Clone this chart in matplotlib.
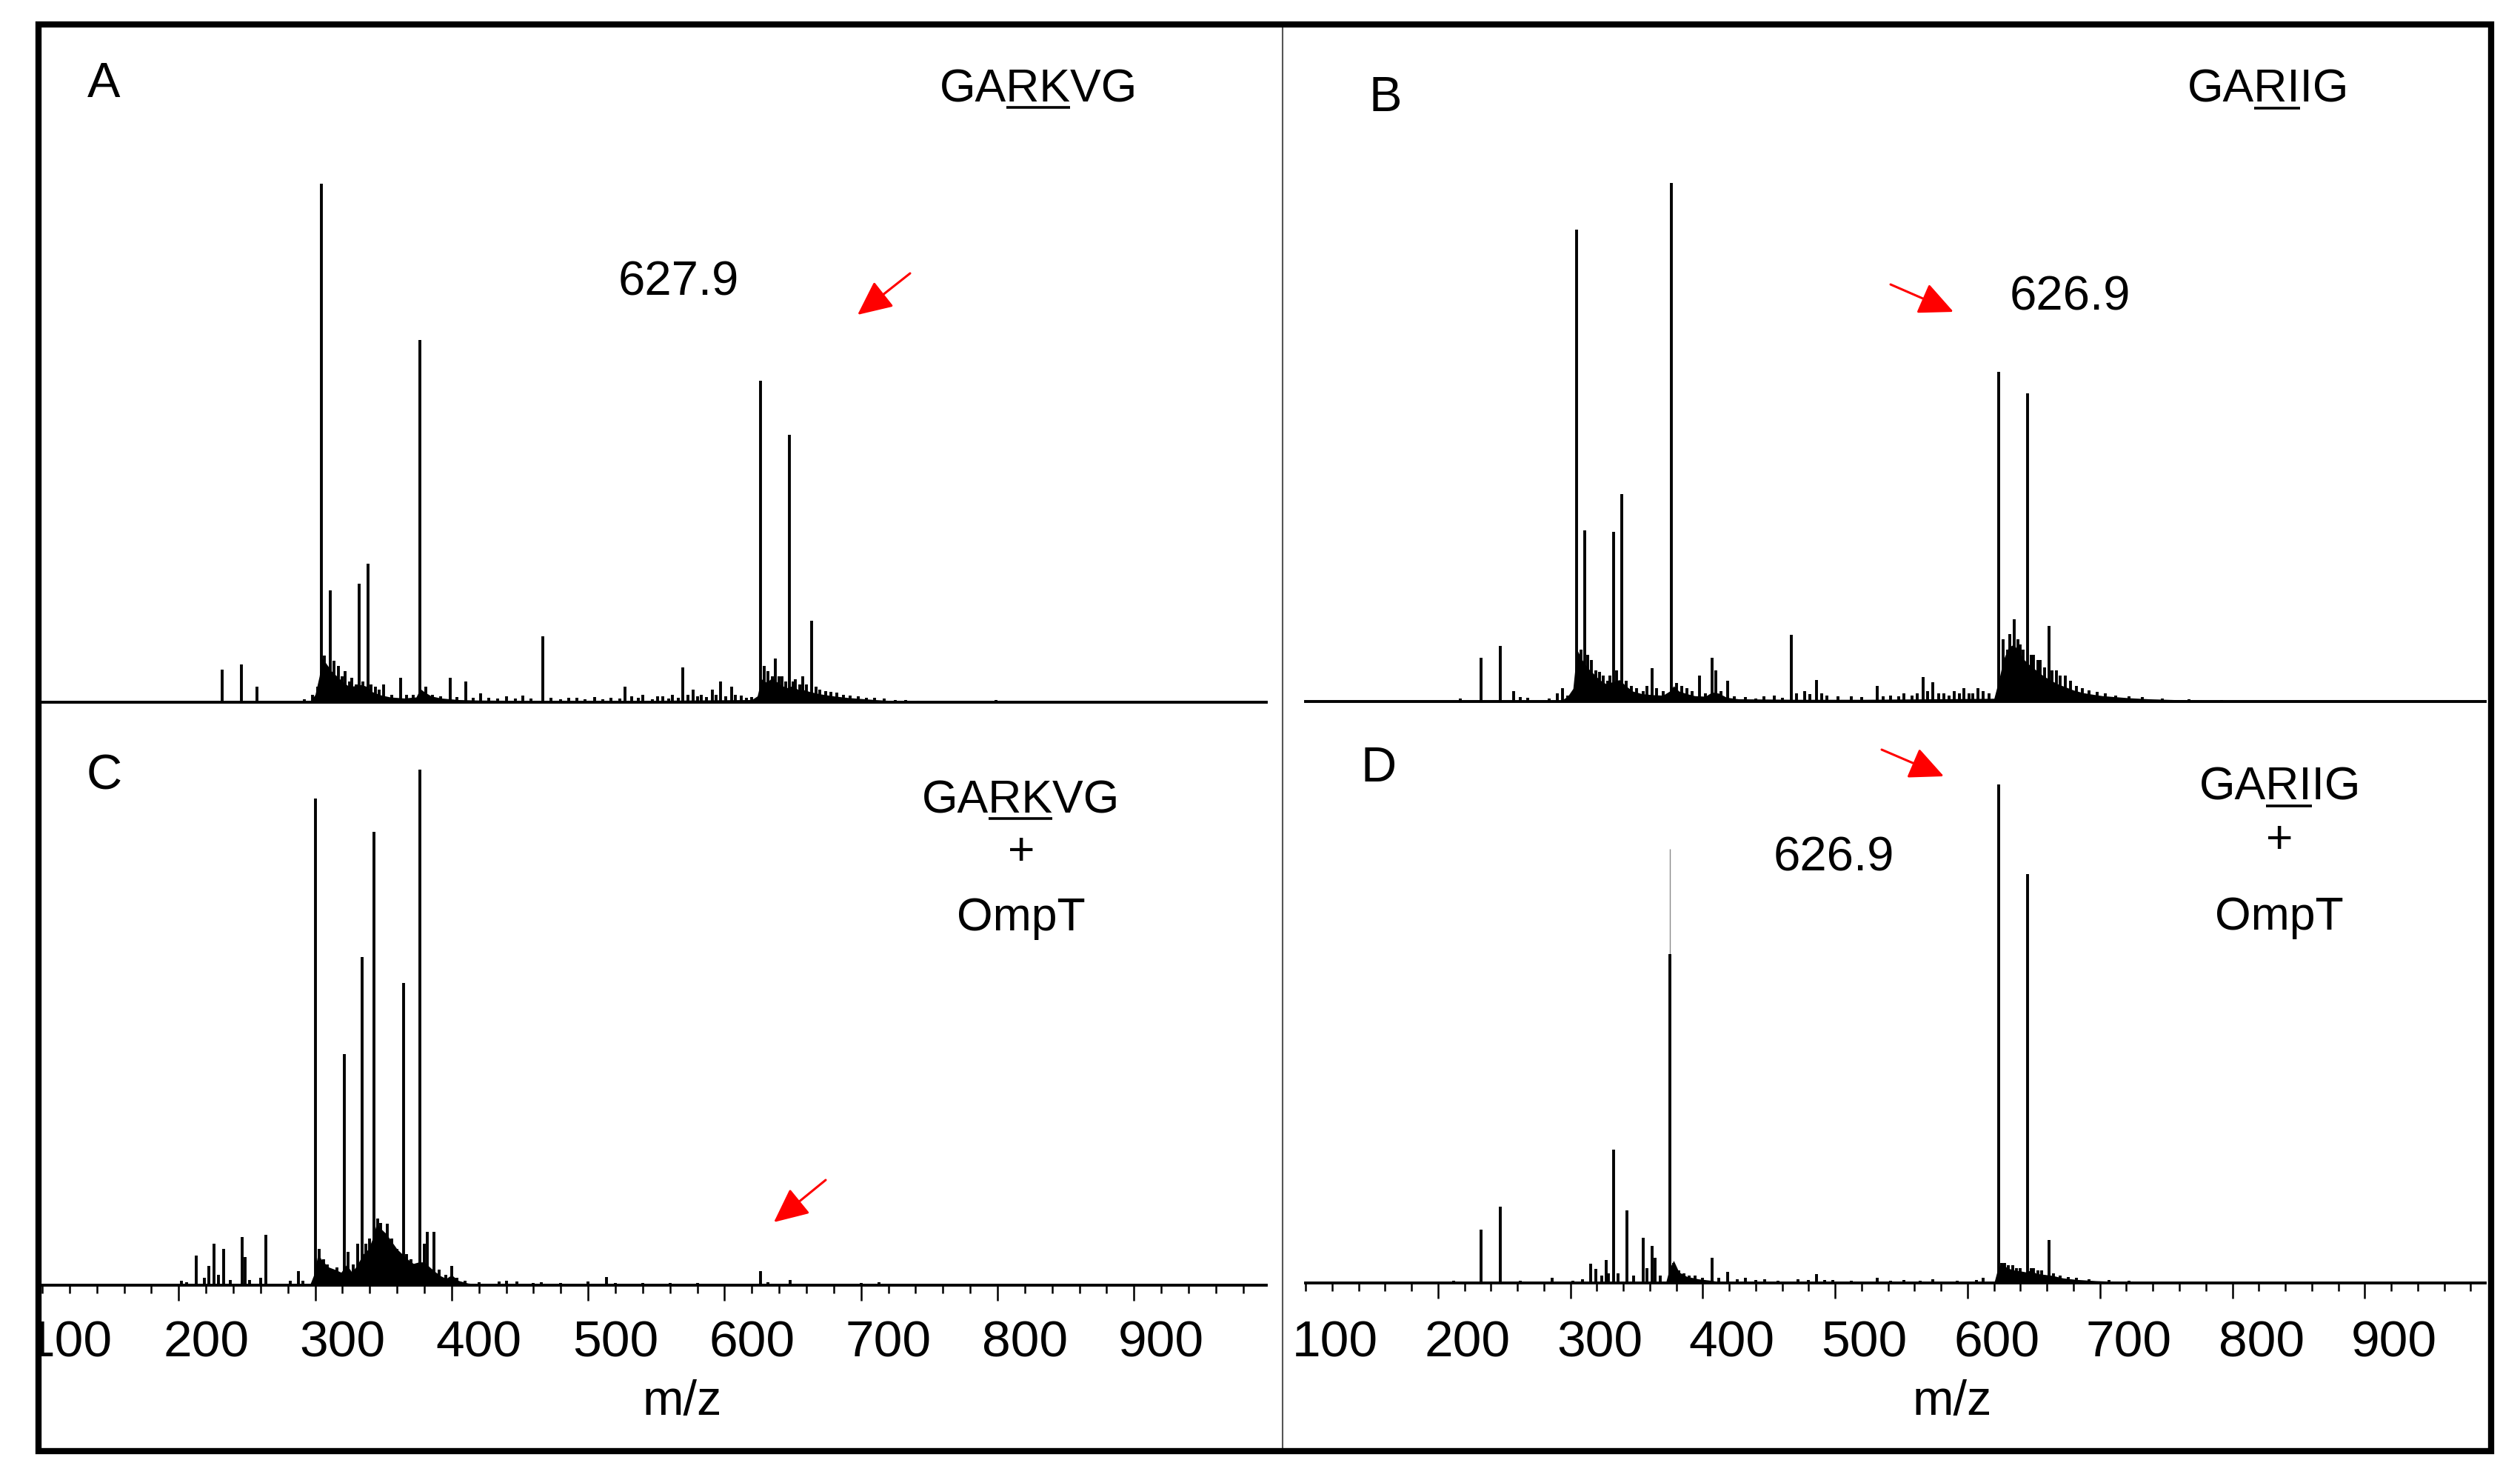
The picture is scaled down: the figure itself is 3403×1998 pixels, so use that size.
"""
Four MALDI spectra (A-D) of the GARKVG / GARIIG peptides with and without OmpT.
"""

import matplotlib
matplotlib.use('Agg')
import matplotlib.pyplot as plt
import numpy as np
from matplotlib import font_manager as fm
from matplotlib.lines import Line2D
from matplotlib.patches import Rectangle, FancyArrowPatch

# ---- data: (m/z, relative intensity %) ----
peaks_a = [(212, 6.3), (226, 7.3), (237.5, 3.0), (272, 0.6), (278, 1.5), (282, 3.0),
           (284.6, 100), (287, 9), (291, 21.6), (294, 8), (297, 7), (300, 5), (302, 6),
           (305, 4), (307, 4.7), (310, 3.5), (312.5, 22.8), (315, 4), (318.9, 26.7),
           (321, 3.5), (324, 3), (327, 2.5), (330, 3.4), (336, 1.5), (342.5, 4.7),
           (347, 1.5), (352, 1.4), (357, 69.9), (361, 3), (366, 1.5), (372, 1.2),
           (378.9, 4.7), (384, 1.0), (390.5, 4.0), (396, 0.8), (401, 1.7), (407, 0.8),
           (414, 0.7), (420, 1.2), (427, 0.7), (432, 1.3), (438, 0.7), (447, 12.7),
           (453, 0.8), (460, 0.6), (466, 0.9), (472, 0.8), (478, 0.6), (485, 1.0),
           (491, 0.6), (497, 0.8), (503, 0.7), (507, 3.0), (512, 1.2), (517, 0.8),
           (520, 1.4), (527, 0.6), (531, 1.2), (535, 1.2), (539, 0.7), (542, 1.5),
           (546, 0.9), (549.4, 6.7), (553, 1.5), (557, 2.4), (560, 1.2), (563, 1.5),
           (567, 1.0), (571, 2.4), (574, 1.5), (577, 4.0), (581, 1.2), (585, 3.0),
           (588, 1.4), (592, 1.3), (596, 0.8), (600, 1.0), (606.6, 62), (609, 7),
           (612, 6), (615, 5), (617.3, 8.4), (620, 5), (622, 5), (625, 4), (627.8, 51.6),
           (630, 4), (632, 4.5), (635, 3.5), (637.4, 5), (640, 3.5), (644, 15.7),
           (647, 3), (650, 2.5), (654, 2.2), (658, 2), (662, 1.8), (667, 1.5), (672, 1.3),
           (678, 1.1), (684, 0.9), (690, 0.8), (697, 0.7), (705, 0.5), (713, 0.4),
           (722, 0.3), (779, 0.5)]
envelope_a = [(276, 0), (280, 1.5), (283, 5), (285, 8.5), (288, 7.5), (292, 6), (296, 5),
              (300, 4), (305, 3), (310, 3.2), (314, 3.4), (318, 3), (322, 2),
              (328, 1.4), (335, 1), (345, 0.8), (354, 1), (357, 2.6), (360, 2),
              (365, 1.2), (372, 0.8), (385, 0.5), (400, 0.4), (450, 0.3), (500, 0.3),
              (550, 0.4), (600, 0.5), (604, 1.2), (607, 4.5), (611, 3.8), (615, 4.8),
              (618, 4), (622, 3.2), (626, 2.8), (630, 3.2), (634, 2.4), (638, 2.4),
              (643, 2), (650, 1.6), (660, 1.2), (670, 0.9), (680, 0.7), (690, 0.5),
              (700, 0.35), (715, 0.2), (730, 0)]

peaks_b = [(195, 0.5), (210.6, 8.4), (225, 10.7), (235, 2.0), (240, 0.8), (246, 0.7),
           (262, 0.6), (268, 1.5), (272, 2.5), (276, 1.2), (282.7, 91), (286, 10),
           (288.6, 33), (291, 9), (294, 8), (297, 6), (300, 5.7), (303, 5), (306, 4),
           (308, 5), (310.4, 32.7), (313, 6), (316.9, 40), (320, 4), (324, 3.0),
           (328, 2.5), (333, 2), (336, 3), (339.7, 6.4), (343, 2.5), (348, 2),
           (354.3, 100), (358, 3.5), (362, 3), (366, 2.5), (370, 2), (375.8, 5),
           (380, 1.5), (385.3, 8.4), (388, 6), (392, 2), (397, 4), (402, 1), (410, 0.8),
           (418, 0.6), (424, 1), (432, 1.2), (438, 0.7), (444.8, 12.8), (449, 1.5),
           (455, 2), (459, 1.4), (464, 4.2), (468, 1.5), (472, 1.2), (480, 1.0),
           (490, 1.0), (498, 0.8), (509.7, 3.0), (514, 1), (520, 1.2), (526, 1),
           (530, 1.5), (536, 1.2), (540, 1.5), (544.3, 4.7), (548, 2), (552, 3.7),
           (556, 1.5), (560, 1.5), (564, 1.2), (568, 2), (572, 1.5), (575, 2.5),
           (579, 1.5), (582, 1.5), (586, 2.5), (590, 2), (594, 1.5), (601.6, 63.6),
           (605, 12), (608, 10), (610, 13), (613, 15.9), (616, 12), (618, 11), (620, 10),
           (623.5, 59.4), (626, 9), (628, 9), (631, 8), (633, 8), (636, 6.5),
           (639.5, 14.5), (642, 6), (645, 6), (648, 5), (652, 5), (656, 4), (660, 3),
           (665, 2.5), (670, 2.2), (676, 1.8), (682, 1.5), (690, 1.2), (700, 1),
           (710, 0.8), (725, 0.6), (745, 0.4), (770, 0.3)]
envelope_b = [(270, 0), (276, 1), (280, 2.5), (283, 10), (287, 8), (291, 6.5), (295, 5.5),
              (300, 4.2), (305, 3.4), (310, 3.8), (315, 4.2), (320, 3), (325, 2), (332, 1.5),
              (340, 1.3), (348, 1.2), (353, 2), (356, 3), (360, 2), (366, 1.5),
              (372, 1.1), (380, 1), (385, 1.8), (390, 1.6), (396, 0.8), (405, 0.5),
              (450, 0.4), (500, 0.4), (550, 0.5), (598, 0.6), (602, 4.5), (605, 8),
              (609, 10.5), (613, 11), (617, 9.5), (621, 8), (625, 7), (630, 6),
              (635, 5), (640, 4.2), (646, 3.4), (652, 2.8), (658, 2.2), (665, 1.7),
              (672, 1.4), (680, 1.1), (690, 0.9), (700, 0.7), (715, 0.5), (735, 0.35),
              (760, 0.2), (775, 0)]

peaks_c = [(182, 0.8), (186, 0.6), (192.8, 5.8), (199, 1.5), (202, 3.7), (205.9, 8.1),
           (209, 2), (212.9, 7.0), (218, 1), (226.3, 9.3), (228.5, 5.4), (232, 1),
           (240, 1.5), (244, 9.8), (262, 0.8), (267.7, 2.7), (271, 0.8), (280, 94.4),
           (283, 7), (286, 5), (289, 4), (292, 3), (296, 3.5), (298, 2.5), (301.2, 44.8),
           (304, 6.5), (308, 4), (311, 8), (314.3, 63.6), (317, 8), (320, 9),
           (323.1, 87.9), (326, 13), (328, 12), (331, 10), (333, 11.9), (336, 9),
           (340, 7), (344.6, 58.6), (347, 6), (350, 5), (353, 4), (357, 100), (360, 8),
           (362, 10.4), (367, 10.4), (371, 3), (376, 2), (380, 3.7), (384, 1.5),
           (390, 0.8), (400, 0.6), (415, 0.7), (420, 0.8), (428, 0.7), (440, 0.5),
           (446, 0.6), (460, 0.4), (480, 0.7), (493.7, 1.6), (500, 0.5), (520, 0.4),
           (540, 0.4), (560, 0.4), (606.6, 2.7), (612, 0.6), (628, 1.0), (680, 0.4),
           (693, 0.6)]
envelope_c = [(276, 0), (279, 2), (282, 6), (286, 4.5), (290, 3.5), (295, 3), (299, 2.5),
              (303, 4), (307, 2.5), (311, 4), (315, 6), (319, 7), (322, 9), (325, 12),
              (328, 11), (332, 10), (336, 8.5), (340, 7), (344, 6), (348, 5),
              (352, 4.2), (356, 4.5), (360, 4.5), (364, 3.5), (368, 2.6), (372, 1.8),
              (376, 1.3), (380, 2), (385, 0.9), (392, 0.4), (400, 0.2), (410, 0)]

peaks_d = [(190, 0.4), (210.8, 10.7), (225, 15.3), (240, 0.4), (264, 1.0), (280, 0.5),
           (287, 0.8), (293.4, 3.9), (297, 2.8), (302, 1.5), (305, 4.6), (307, 2),
           (310.4, 26.7), (314, 2), (320.6, 14.6), (326, 1.5), (333.3, 9.0), (336, 3),
           (339.5, 7.4), (342, 5), (346, 1.5), (353, 66), (356, 4), (360, 2.5),
           (364, 2), (368, 1.5), (372, 1.5), (378, 1), (384.9, 5.0), (390, 1),
           (397, 2.2), (404, 0.8), (410, 1), (418, 0.6), (425, 0.8), (435, 0.5),
           (450, 0.8), (458, 0.6), (464, 1.8), (470, 0.6), (476, 0.6), (490, 0.5),
           (510, 1.0), (520, 0.4), (530, 0.6), (542, 0.5), (552, 0.7), (570, 0.4),
           (585, 0.6), (590, 1.0), (601.6, 100), (604, 4), (606, 4), (609, 3.5),
           (612, 3.5), (615, 3), (618, 3), (623.5, 82), (626, 3), (628, 3), (631, 2.5),
           (634, 2.5), (639.4, 8.6), (643, 2), (648, 1.5), (654, 1.2), (660, 1),
           (670, 0.8), (685, 0.6), (700, 0.4)]
faint_tips_d = [(353, 87)]
envelope_d = [(350, 0), (353, 3), (356, 4.5), (360, 2.2), (366, 1.3), (375, 0.8), (385, 0.5),
              (395, 0), (598, 0), (601, 3), (604, 4), (608, 3), (613, 2.6), (618, 2.4),
              (622, 2.2), (626, 2.6), (630, 1.9), (636, 1.7), (642, 1.5), (650, 1),
              (660, 0.7), (675, 0.45), (690, 0.3), (705, 0.15), (715, 0)]

tick_labels = [100, 200, 300, 400, 500, 600, 700, 800, 900]

# ---- layout (pixels of the 3403 x 1998 canvas) ----
W, H = 3403, 1998


def fx(x):
    return x / W


def fy(y):
    return 1 - y / H


def has_font(name):
    try:
        fm.findfont(fm.FontProperties(family=name), fallback_to_default=False)
        return True
    except ValueError:
        return False


plt.rcParams['font.family'] = ['Liberation Sans', 'DejaVu Sans']
if has_font('Liberation Sans Narrow'):
    axis_font, tick_size, mz_size = ['Liberation Sans Narrow', 'Liberation Sans'], 58, 54
else:
    axis_font, tick_size, mz_size = ['Liberation Sans', 'DejaVu Sans'], 50, 48

fig = plt.figure(figsize=(W / 100, H / 100), dpi=100)


def draw_panel(peaks, envelope, box, xlim, peak_top, with_axis, tick_start, faint=None):
    left, right, base, top = box
    ax = fig.add_axes([fx(left), fy(base), (right - left) / W, (base - top) / H])
    ax.patch.set_visible(False)
    mz, inten = zip(*peaks)
    env_mz, env_int = zip(*envelope)
    ax.fill_between(env_mz, 0, env_int, color='black', lw=0)
    ax.vlines(mz, 0, inten, color='black', lw=2.8)
    if faint:
        f_mz, f_int = zip(*faint)
        ax.vlines(f_mz, 0, f_int, color='#8a8a8a', lw=1.0, zorder=1)
    ax.set_xlim(*xlim)
    ax.set_ylim(0, 100 * (base - top) / (base - peak_top))
    for side in ('top', 'left', 'right'):
        ax.spines[side].set_visible(False)
    ax.spines['bottom'].set_linewidth(2.8)
    ax.set_yticks([])
    if with_axis:
        ax.set_xticks(np.arange(tick_start + 100, xlim[1], 100))
        ax.set_xticks(np.arange(tick_start, xlim[1], 20), minor=True)
        ax.tick_params(axis='x', which='major', length=15, width=1.8, direction='out',
                       labelbottom=False)
        ax.tick_params(axis='x', which='minor', length=8, width=1.8, direction='out')
        sec = ax.secondary_xaxis('bottom')
        sec.set_xticks(tick_labels, [str(t) for t in tick_labels])
        pad = (1782 - base) * 72 / 100
        sec.tick_params(length=0, pad=pad, labelsize=tick_size, labelfontfamily=axis_font)
        sec.spines['bottom'].set_visible(False)
    else:
        ax.set_xticks([])
    return ax


draw_panel(peaks_a, envelope_a, (57, 1710, 948, 200), (80, 977), 248, False, 80)
draw_panel(peaks_b, envelope_b, (1763, 3356, 947, 200), (78, 969), 247, False, 78)
draw_panel(peaks_c, envelope_c, (57, 1710, 1735, 1000), (80, 977), 1039, True, 80)
draw_panel(peaks_d, envelope_d, (1763, 3356, 1732, 1000), (78, 969), 1059, True, 78,
           faint=faint_tips_d)

for x in (921, 2636):
    fig.text(fx(x), fy(1910), 'm/z', ha='center', va='baseline', fontsize=mz_size,
             family=axis_font)

# panel letters
for letter, x, y in [('A', 140, 131), ('B', 1871, 150), ('C', 141, 1066), ('D', 1862, 1055)]:
    fig.text(fx(x), fy(y), letter, ha='center', va='baseline', fontsize=48)


def peptide(x, y, text, i0, i1, size=45):
    t = fig.text(fx(x), fy(y), text, ha='center', va='baseline', fontsize=size)
    r = fig.canvas.get_renderer()
    bb = t.get_window_extent(r)
    probe = fig.text(0, 0, text[:i0], fontsize=size)
    w0 = probe.get_window_extent(r).width
    probe.set_text(text[:i1])
    w1 = probe.get_window_extent(r).width
    probe.remove()
    yl = y + 8
    fig.add_artist(Line2D([fx(bb.x0 + w0), fx(bb.x0 + w1)], [fy(yl), fy(yl)],
                          color='black', lw=2.6, solid_capstyle='butt'))


peptide(1402, 137, 'GARKVG', 2, 4)
peptide(3063, 138, 'GARIIG', 2, 4)
peptide(1378, 1097, 'GARKVG', 2, 4)
peptide(3079, 1080, 'GARIIG', 2, 4)
for x, y_plus, y_omp in [(1379, 1152, 1256), (3078, 1136, 1255)]:
    fig.text(fx(x), fy(y_plus), '+', ha='center', va='center', fontsize=45)
    fig.text(fx(x), fy(y_omp), 'OmpT', ha='center', va='baseline', fontsize=45)

for label, x, y in [('627.9', 916, 398), ('626.9', 2795, 418), ('626.9', 2476, 1175)]:
    fig.text(fx(x), fy(y), label, ha='center', va='baseline', fontsize=47)

# red arrows
for (x1, y1), (x2, y2) in [((1229, 369), (1158, 425)), ((2553, 384), (2638, 421)),
                           ((1115, 1593), (1045, 1650)), ((2541, 1012), (2625, 1048))]:
    fig.add_artist(FancyArrowPatch((fx(x1), fy(y1)), (fx(x2), fy(y2)),
                                   transform=fig.transFigure,
                                   arrowstyle='-|>,head_length=0.6,head_width=0.28',
                                   mutation_scale=48, color='#ff0000', lw=2.2,
                                   shrinkA=0, shrinkB=0, zorder=5))

# divider and outer frame
fig.add_artist(Line2D([fx(1732), fx(1732)], [fy(33), fy(1959)], color='#555555', lw=1.5))
fig.add_artist(Rectangle((0, 0), fx(52), 1, transform=fig.transFigure,
                         facecolor='white', edgecolor='none', zorder=9))
fig.add_artist(Rectangle((fx(52), fy(1959)), (3364 - 52) / W, (1959 - 33) / H,
                         transform=fig.transFigure, fill=False, edgecolor='black',
                         lw=6, zorder=10))

fig.savefig('out.png', dpi=100)
plt.close()
